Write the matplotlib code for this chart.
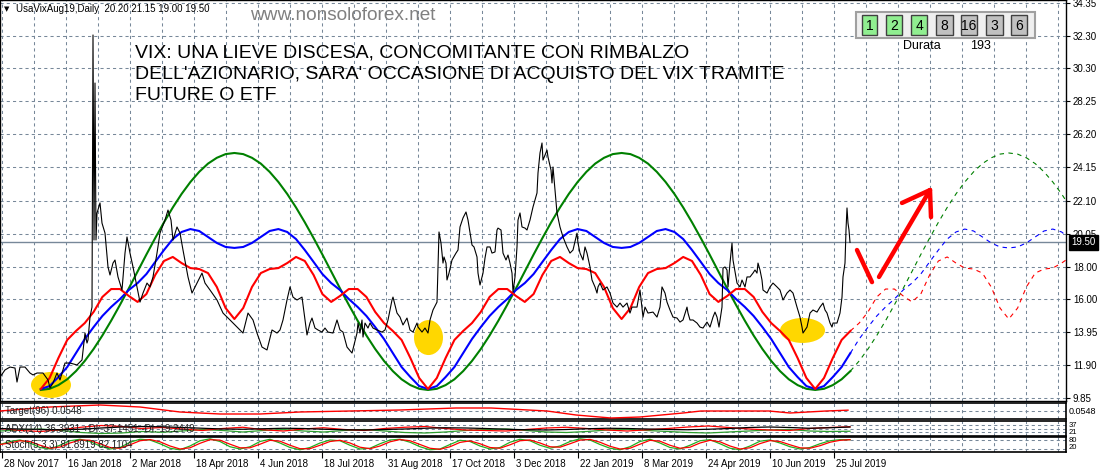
import numpy as np
import matplotlib
matplotlib.use("Agg")
import matplotlib.pyplot as plt
from matplotlib.patches import Ellipse, Rectangle
from matplotlib.transforms import ScaledTranslation, blended_transform_factory

plt.rcParams['font.family'] = ['Liberation Sans', 'DejaVu Sans']

# ------------------------------------------------------------------ data
date_labels = ["28 Nov 2017", "16 Jan 2018", "2 Mar 2018", "18 Apr 2018", "4 Jun 2018",
               "18 Jul 2018", "31 Aug 2018", "17 Oct 2018", "3 Dec 2018", "22 Jan 2019",
               "8 Mar 2019", "24 Apr 2019", "10 Jun 2019", "25 Jul 2019"]
date_bars = [0, 32, 64, 96, 128, 160, 192, 224, 256, 288, 320, 352, 384, 416]
price_ticks = [34.35, 32.30, 30.30, 28.25, 26.20, 24.15, 22.10, 20.05, 18.00, 16.00, 13.95, 11.90, 9.85]
last_price = 19.50

price_bar = [-1, 1.5, 4, 6.5, 7.5, 9, 11.5, 14, 15.5, 17.5, 20.5, 23, 24, 25.5, 27.5, 29, 31.5, 34, 37.5, 40,
             41.5, 42.5, 43, 44, 45, 45.5, 46, 46.5, 47, 47.5, 49, 50, 51.5, 53, 54, 55.5, 56.5, 58, 60, 61.5,
             62.5, 64, 65.5, 67.5, 69, 70.5, 72.5, 74, 75.5, 77.5, 79, 81.5, 83, 84.5, 85.5, 87.5, 89, 90.5, 93, 95,
             97.5, 100, 101.5, 104, 107.5, 110.5, 114, 117.5, 120.5, 123, 125.5, 127.5, 130, 132.5, 135, 137.5,
             139, 140.5, 142.5, 144, 145.5, 147.5, 150, 151.5, 152.5, 154, 155, 156.5, 158, 160, 161.5, 163,
             165.5, 167.5, 169, 170.5, 172.5, 175, 177.5, 178, 179, 180, 180.5, 181.5, 183, 184, 185.5, 187.5,
             190, 191.5, 193, 195, 195.5, 197.5, 199, 200.5, 202.5, 204, 205.5, 207.5, 208, 210, 211.5, 213,
             214, 215.5, 217.5, 218, 218.5, 219.5, 220.5, 221, 222, 222.5, 223.5, 225, 227, 228, 229, 230.5,
             232, 233, 235, 236, 237.5, 238, 239, 240.5, 241.5, 242.5, 244, 245, 246.5, 247.5, 248, 249.5,
             250.5, 252, 253, 254, 255, 255.5, 256.5, 257.5, 258, 259, 260, 261.5, 262.5, 264, 265.5, 267.5,
             268, 269, 270, 270.5, 271.5, 272.5, 273, 274.5, 275, 275.5, 276.5, 277.5, 279, 280.5, 282.5, 284,
             285.5, 287.5, 288, 289, 290.5, 291.5, 292.5, 294, 295, 296.5, 297.5, 298, 299, 300.5, 302.5, 304,
             305.5, 307.5, 309, 310.5, 312.5, 314, 315, 317.5, 319, 320.5, 321.5, 323, 325.5, 327.5, 329, 330,
             331.5, 332.5, 334, 335.5, 337.5, 339, 340.5, 342.5, 343, 344, 345.5, 347.5, 349, 350.5, 352.5, 354,
             355.5, 356.5, 357.5, 358.5, 360, 360.5, 361.5, 362.5, 363, 364, 365, 365.5, 367.5, 369, 370, 371.5,
             372.5, 374, 375.5, 376.5, 377.5, 378, 379, 380, 380.5, 382.5, 384, 385.5, 387.5, 389, 390.5, 392.5,
             394, 395.5, 397.5, 399, 400, 400.5, 402.5, 404, 405.5, 407.5, 409, 410.5, 411.5, 412.5, 414, 415,
             415.5, 417.5, 419, 420, 420.5, 421.5, 422, 422.5, 423, 423.5, 424]
price_val = [11.15, 11.59, 11.77, 11.71, 10.84, 11.77, 11.77, 11.40, 11.28, 11.40, 11.40, 10.97, 10.47, 10.78,
             11.40, 10.97, 12.02, 12.02, 11.90, 12.21, 13.88, 13.26, 13.45, 14.87, 15.49, 32.37, 19.65, 29.39,
             19.65, 21.32, 21.95, 20.70, 20.08, 17.98, 17.48, 18.22, 18.41, 17.36, 16.55, 18.84, 19.84, 18.84,
             17.98, 16.74, 15.80, 16.36, 16.98, 16.74, 17.36, 18.84, 20.08, 20.89, 21.51, 20.89, 19.65, 20.46,
             20.08, 19.03, 17.36, 16.36, 16.98, 17.60, 16.98, 16.55, 15.93, 15.12, 14.69, 14.25, 13.88, 15.12,
             14.69, 13.88, 13.01, 12.83, 14.07, 13.88, 14.07, 14.69, 15.93, 16.74, 16.11, 15.93, 16.11, 14.69,
             13.76, 14.50, 14.81, 14.19, 14.07, 13.94, 14.19, 13.94, 13.88, 14.69, 14.07, 13.94, 13.01, 12.64,
             13.88, 14.50, 13.88, 14.69, 13.63, 14.50, 14.19, 14.50, 14.19, 14.07, 13.94, 14.07, 14.69, 15.93,
             16.11, 15.12, 14.87, 14.38, 14.81, 14.07, 13.94, 14.50, 14.25, 13.94, 14.19, 13.88, 14.69, 15.31,
             15.80, 17.98, 20.15, 19.46, 18.22, 18.60, 18.22, 17.17, 17.60, 18.41, 18.84, 19.03, 20.46, 21.02,
             21.39, 20.89, 19.34, 19.22, 18.60, 17.60, 16.86, 17.60, 18.53, 19.22, 19.22, 18.84, 18.91, 20.27,
             20.39, 20.27, 18.84, 18.41, 18.72, 18.22, 17.60, 16.43, 17.36, 19.22, 20.89, 21.33, 20.46, 20.39,
             20.27, 20.89, 21.70, 22.57, 23.81, 25.05, 25.67, 24.61, 24.92, 25.23, 24.80, 23.99, 23.19, 24.18,
             22.75, 21.33, 20.46, 19.84, 19.22, 18.84, 19.03, 20.08, 19.46, 18.84, 18.41, 19.22, 18.84, 17.98,
             17.17, 16.74, 16.36, 16.74, 16.98, 16.55, 16.74, 16.36, 15.74, 15.49, 15.74, 15.49, 15.74, 15.12,
             15.49, 15.49, 16.55, 14.87, 15.49, 15.12, 15.18, 14.87, 15.49, 16.74, 16.36, 15.80, 15.31, 14.87,
             14.81, 14.56, 14.69, 15.49, 15.12, 14.69, 14.69, 14.50, 14.25, 14.19, 14.56, 14.25, 14.87, 15.18,
             14.87, 14.25, 15.49, 17.91, 17.98, 17.79, 16.74, 18.22, 19.46, 18.41, 16.98, 16.74, 17.17, 16.74,
             17.36, 17.36, 17.60, 17.79, 17.60, 18.22, 17.79, 17.17, 16.55, 16.36, 16.74, 16.98, 16.74, 16.55,
             15.93, 16.36, 16.55, 16.36, 15.49, 14.87, 14.25, 13.88, 14.25, 15.12, 15.31, 15.18, 15.49, 15.74,
             15.31, 15.12, 14.50, 14.25, 14.50, 14.50, 15.12, 16.11, 17.36, 18.22, 20.27, 21.64, 20.70, 20.27,
             19.50]

# cycle lines, sampled every 4.4 bars starting at the first low (bar 19.4)
cycle_start, cycle_step = 19.4, 4.4
green_vals = [10.35, 10.42, 10.65, 11.01, 11.52, 12.15, 12.89, 13.73, 14.65, 15.63, 16.65, 17.70, 18.75, 19.77,
              20.75, 21.67, 22.51, 23.25, 23.88, 24.39, 24.75, 24.98, 25.05, 24.98, 24.75, 24.39, 23.88, 23.25,
              22.51, 21.67, 20.75, 19.77, 18.75, 17.70, 16.65, 15.63, 14.65, 13.73, 12.89, 12.15, 11.52, 11.01,
              10.65, 10.42,
              10.35, 10.42, 10.65, 11.01, 11.52, 12.15, 12.89, 13.73, 14.65, 15.63, 16.65, 17.70, 18.75, 19.77,
              20.75, 21.67, 22.51, 23.25, 23.88, 24.39, 24.75, 24.98, 25.05, 24.98, 24.75, 24.39, 23.88, 23.25,
              22.51, 21.67, 20.75, 19.77, 18.75, 17.70, 16.65, 15.63, 14.65, 13.73, 12.89, 12.15, 11.52, 11.01,
              10.65, 10.42,
              10.35, 10.42, 10.65, 11.01, 11.52, 12.15, 12.89, 13.73, 14.65, 15.63, 16.65, 17.70, 18.75, 19.77,
              20.75, 21.67, 22.51, 23.25, 23.88, 24.39, 24.75, 24.98, 25.05, 24.98, 24.75, 24.39, 23.88, 23.25,
              22.51, 21.67]
blue_vals = [10.41, 10.59, 11.15, 11.77, 12.64, 13.51, 14.25, 14.94, 15.50, 15.99, 16.55, 16.98, 17.54, 18.29,
             19.03, 19.71, 20.15, 20.33, 20.21, 19.84, 19.47, 19.22, 19.16, 19.22, 19.47, 19.84, 20.21, 20.33,
             20.15, 19.71, 19.03, 18.29, 17.54, 16.98, 16.55, 15.99, 15.50, 14.94, 14.25, 13.51, 12.64, 11.77,
             11.15, 10.59,
             10.41, 10.59, 11.15, 11.77, 12.64, 13.51, 14.25, 14.94, 15.50, 15.99, 16.55, 16.98, 17.54, 18.29,
             19.03, 19.71, 20.15, 20.33, 20.21, 19.84, 19.47, 19.22, 19.16, 19.22, 19.47, 19.84, 20.21, 20.33,
             20.15, 19.71, 19.03, 18.29, 17.54, 16.98, 16.55, 15.99, 15.50, 14.94, 14.25, 13.51, 12.64, 11.77,
             11.15, 10.59,
             10.41, 10.59, 11.15, 11.77, 12.64, 13.51, 14.25, 14.94, 15.50, 15.99, 16.55, 16.98, 17.54, 18.29,
             19.03, 19.71, 20.15, 20.33, 20.21, 19.84, 19.47, 19.22, 19.16, 19.22, 19.47, 19.84, 20.21, 20.33,
             20.15, 19.71]
red_vals = [10.41, 11.09, 12.33, 13.45, 14.01, 14.50, 15.19, 16.12, 16.61, 16.61, 16.18, 15.81, 16.30, 17.48,
            18.35, 18.60, 18.22, 17.91, 17.85, 17.60, 16.74, 15.43, 14.75, 15.43, 16.74, 17.60, 17.85, 17.91,
            18.22, 18.60, 18.35, 17.48, 16.30, 15.81, 16.18, 16.61, 16.61, 16.12, 15.19, 14.50, 14.01, 13.45,
            12.33, 11.09,
            10.41, 11.09, 12.33, 13.45, 14.01, 14.50, 15.19, 16.12, 16.61, 16.61, 16.18, 15.81, 16.30, 17.48,
            18.35, 18.60, 18.22, 17.91, 17.85, 17.60, 16.74, 15.43, 14.75, 15.43, 16.74, 17.60, 17.85, 17.91,
            18.22, 18.60, 18.35, 17.48, 16.30, 15.81, 16.18, 16.61, 16.61, 16.12, 15.19, 14.50, 14.01, 13.45,
            12.33, 11.09,
            10.41, 11.09, 12.33, 13.45, 14.01, 14.50, 15.19, 16.12, 16.61, 16.61, 16.18, 15.81, 16.30, 17.48,
            18.35, 18.60, 18.22, 17.91, 17.85, 17.60, 16.74, 15.43, 14.75, 15.43, 16.74, 17.60, 17.85, 17.91,
            18.22, 18.60]
n_observed = 93   # points of each cycle line drawn solid (up to the last bar)

target_bar = [-1, 24, 49, 69, 89, 109, 129, 149, 174, 199, 227, 244.5, 272.5, 287, 304.5, 319, 340.5,
              349.5, 383.5, 394, 412, 423]
target_val = [0.040, 0.110, 0.145, 0.110, 0.0225, -0.0125, -0.0125, 0.0225, 0.040, 0.0575, 0.0925, 0.0925,
              0.040, -0.030, -0.0825, -0.065, 0.005, 0.040, 0.040, 0.005, 0.040, 0.0548]

adx_line = [30, 28, 26, 25, 27, 32, 36, 38, 37, 34, 31, 28, 27, 29, 31, 30, 27, 25, 24, 26, 28, 31, 33, 32,
            30, 27, 25, 24, 26, 29, 31, 30, 28, 26, 25, 27, 30, 34, 36, 34, 31, 33, 36]
plus_di = [30, 22, 18, 25, 35, 42, 38, 30, 34, 28, 22, 30, 35, 25, 20, 28, 33, 26, 22, 30, 35, 38, 30, 24,
           22, 20, 26, 32, 35, 30, 24, 20, 25, 30, 36, 40, 34, 28, 24, 22, 30, 34, 37]
minus_di = [20, 24, 28, 22, 14, 10, 12, 18, 15, 20, 26, 22, 16, 22, 26, 20, 16, 22, 26, 20, 14, 12, 16, 22,
            26, 28, 22, 16, 14, 18, 24, 27, 22, 18, 14, 12, 16, 20, 24, 26, 20, 18, 19]

stoch_k = [50, 70, 80, 60, 30, 20, 45, 75, 85, 70,
           40, 20, 30, 65, 85, 80, 55, 25, 15, 40,
           75, 88, 70, 35, 20, 35, 70, 85, 60, 30,
           15, 30, 60, 80, 75, 45, 20, 25, 55, 80,
           85, 65, 35, 15, 20, 50, 78, 70, 40, 20,
           30, 65, 85, 75, 45, 25, 40, 70, 88, 80,
           50, 25, 15, 35, 70, 85, 60, 30, 20, 45,
           75, 82, 55, 25, 15, 40, 72, 80, 60, 35,
           20, 30, 55, 75, 82, 82]
stoch_d = [50, 60, 75, 70, 45, 25, 33, 60, 80, 78,
           55, 30, 25, 48, 75, 83, 68, 40, 20, 28,
           58, 82, 79, 52, 28, 28, 52, 78, 72, 45,
           22, 22, 45, 70, 78, 60, 32, 22, 40, 68,
           83, 75, 50, 25, 18, 35, 64, 74, 55, 30,
           25, 48, 75, 80, 60, 35, 32, 55, 79, 84,
           65, 38, 20, 25, 52, 78, 72, 45, 25, 32,
           60, 78, 68, 40, 20, 28, 56, 76, 70, 48,
           28, 25, 42, 65, 78, 82]

# ------------------------------------------------------------------ layout helpers
W, H = 1100, 473
fig = plt.figure(figsize=(W / 100, H / 100), dpi=100)
fig.patch.set_facecolor('white')


def rect(x0, y0, x1, y1):
    return [x0 / W, 1 - y1 / H, (x1 - x0) / W, (y1 - y0) / H]


def fx(x):
    return x / W


def fy(y):
    return 1 - y / H


GRID = '#778899'
DASH = (0, (3, 3))
XLIM = (-1, 532)
vgrid = np.arange(0, 533, 16)


def frame(a, lw=1.0):
    for s in a.spines.values():
        s.set_color('black')
        s.set_linewidth(lw)
    a.set_facecolor('white')


# ------------------------------------------------------------------ main panel
ax = fig.add_axes(rect(0, 0, 1066, 401))
ax.set_xlim(*XLIM)
ax.set_ylim(9.664, 34.54)
frame(ax, 1.0)
for b in vgrid:
    ax.axvline(b, color=GRID, lw=0.75, ls=DASH, zorder=0)
for t in price_ticks:
    ax.axhline(t, color=GRID, lw=0.75, ls=DASH, zorder=0)
ax.axhline(last_price, color=GRID, lw=1.0, zorder=1)

ax.set_xticks([])
ax.yaxis.tick_right()
ax.set_yticks(price_ticks)
ax.set_yticklabels([f"{t:.2f}" for t in price_ticks])
ax.tick_params(axis='y', direction='out', length=3, width=0.8, pad=2, labelsize=7, colors='black')

# highlight ellipses
for (cx, cy, ew, eh) in [(24.5, 10.66, 20, 1.61), (213.25, 13.60, 14.5, 2.17), (400.25, 14.04, 22.5, 1.55)]:
    ax.add_patch(Ellipse((cx, cy), ew, eh, facecolor='#FFD700', edgecolor='none', zorder=2))

cx_all = cycle_start + cycle_step * np.arange(len(green_vals))
for vals, col in [(green_vals, '#008000'), (blue_vals, '#0000FF'), (red_vals, '#FF0000')]:
    ax.plot(cx_all[:n_observed], vals[:n_observed], color=col, lw=1.5, zorder=4)
    ax.plot(cx_all[n_observed - 1:], vals[n_observed - 1:], color=col, lw=0.8, ls=(0, (4, 4)), zorder=4)

ax.plot(price_bar, price_val, color='black', lw=0.8, zorder=5)

# hand-drawn arrows
arrow_segs = [((427.5, 19.03), (435, 17.04)), ((438.5, 17.36), (464, 22.75)),
              ((450, 21.95), (464, 22.75)), ((464, 22.75), (464.5, 21.07))]
for (a, b) in arrow_segs:
    ax.plot([a[0], b[0]], [a[1], b[1]], color='#FF0000', lw=3.2, solid_capstyle='round', zorder=6)

# last price box
tr = blended_transform_factory(ax.transAxes, ax.transData)
ax.text(1.0, last_price, "19.50", transform=tr + ScaledTranslation(5 / 100, 0, fig.dpi_scale_trans),
        ha='left', va='center', fontsize=7, color='white', zorder=10, clip_on=False,
        bbox=dict(boxstyle='square,pad=0.25', fc='black', ec='black'))

# ------------------------------------------------------------------ sub panels
axt = fig.add_axes(rect(0, 403, 1066, 419))
axa = fig.add_axes(rect(0, 421, 1066, 436))
axs = fig.add_axes(rect(0, 437, 1066, 452))
for a in (axt, axa, axs):
    a.set_xlim(*XLIM)
    frame(a, 1.2)
    a.set_yticks([])
    for b in vgrid:
        a.axvline(b, color=GRID, lw=0.75, ls=DASH, zorder=0)

axt.set_ylim(-0.10, 0.18)
axt.axhline(0.04, color=GRID, lw=0.75, ls=DASH, zorder=0)
axt.plot(target_bar, target_val, color='#FF0000', lw=1.0, zorder=3)
axt.set_xticks([])

axa.set_ylim(0, 60)
for v in (16, 28, 44):
    axa.axhline(v, color=GRID, lw=0.75, ls=DASH, zorder=0)
adx_x = np.linspace(-1, 424, len(adx_line))
axa.plot(adx_x, minus_di, color='#2E9E2E', lw=0.9, zorder=3)
axa.plot(adx_x, plus_di, color='#FF0000', lw=0.9, zorder=3)
axa.plot(adx_x, adx_line, color='black', lw=0.9, zorder=3)
axa.set_xticks([])

axs.set_ylim(0, 100)
for v in (20, 80):
    axs.axhline(v, color=GRID, lw=0.75, ls=DASH, zorder=0)
st_x = np.linspace(-1, 424, len(stoch_k))
axs.plot(st_x, stoch_k, color='#22B022', lw=0.9, zorder=3)
axs.plot(st_x, stoch_d, color='#FF0000', lw=0.9, zorder=3)
axs.set_xticks(date_bars)
axs.set_xticklabels(date_labels)
axs.tick_params(axis='x', direction='out', length=4, width=0.8, pad=1, labelsize=7, colors='black')
off = ScaledTranslation(2 / 100, 0, fig.dpi_scale_trans)
for lab in axs.get_xticklabels():
    lab.set_ha('left')
    lab.set_transform(lab.get_transform() + off)

# sub-panel labels
fig.text(fx(5), fy(411), "Target(96) 0.0548", fontsize=7, color='#202020', va='center', ha='left')
fig.text(fx(5), fy(428.5), "ADX(14) 36.3931 +DI: 37.1451 -DI: 19.2449", fontsize=7, color='#202020',
         va='center', ha='left')
fig.text(fx(5), fy(444.5), "Stoch(5,3,3) 81.8919 82.1104", fontsize=7, color='#202020', va='center', ha='left')

# right-hand sub-panel scales
fig.text(fx(1069), fy(411), "0.0548", fontsize=6.5, va='center', ha='left')
fig.text(fx(1069), fy(425), "37", fontsize=5.5, va='center', ha='left')
fig.text(fx(1069), fy(432), "21", fontsize=5.5, va='center', ha='left')
fig.text(fx(1069), fy(440.5), "80", fontsize=5.5, va='center', ha='left')
fig.text(fx(1069), fy(447.5), "20", fontsize=5.5, va='center', ha='left')

# ------------------------------------------------------------------ header texts
fig.text(fx(4), fy(9), "\u25BC", fontsize=5, color='black', va='center', ha='left',
         family=['DejaVu Sans'])
fig.text(fx(16), fy(9), "UsaVixAug19,Daily  20.20 21.15 19.00 19.50", fontsize=7, color='black',
         va='center', ha='left')
fig.text(fx(250), fy(15), "www.nonsoloforex.net", fontsize=13.7, color='#808080', va='center', ha='left')
fig.text(fx(135), fy(45),
         "VIX: UNA LIEVE DISCESA, CONCOMITANTE CON RIMBALZO\n"
         "DELL'AZIONARIO, SARA' OCCASIONE DI ACQUISTO DEL VIX TRAMITE\n"
         "FUTURE O ETF",
         fontsize=14.0, color='black', va='top', ha='left', linespacing=1.30)

# cycle button panel
fig.add_artist(Rectangle((fx(856), fy(38)), (1035 - 856) / W, 26 / H, transform=fig.transFigure,
                         facecolor='#EFEFEF', edgecolor='#A0A0A0', lw=1.5))
buttons = [("1", 862, 877, '#90EE90'), ("2", 886, 902, '#90EE90'), ("4", 911, 927, '#90EE90'),
           ("8", 936, 953, '#C0C0C0'), ("16", 961, 977, '#C0C0C0'), ("3", 986, 1003, '#C0C0C0'),
           ("6", 1011, 1027, '#C0C0C0')]
for lab, x0, x1, col in buttons:
    fig.add_artist(Rectangle((fx(x0), fy(35)), (x1 - x0) / W, 20 / H, transform=fig.transFigure,
                             facecolor=col, edgecolor='#404040', lw=1.0))
    fig.text(fx((x0 + x1) / 2), fy(25.5), lab, fontsize=10, ha='center', va='center', color='black')
fig.text(fx(903), fy(46), "Durata", fontsize=9, ha='left', va='center', color='black')
fig.text(fx(970), fy(46), "193", fontsize=9, ha='left', va='center', color='black')

fig.savefig("out.png", dpi=100, facecolor='white')
